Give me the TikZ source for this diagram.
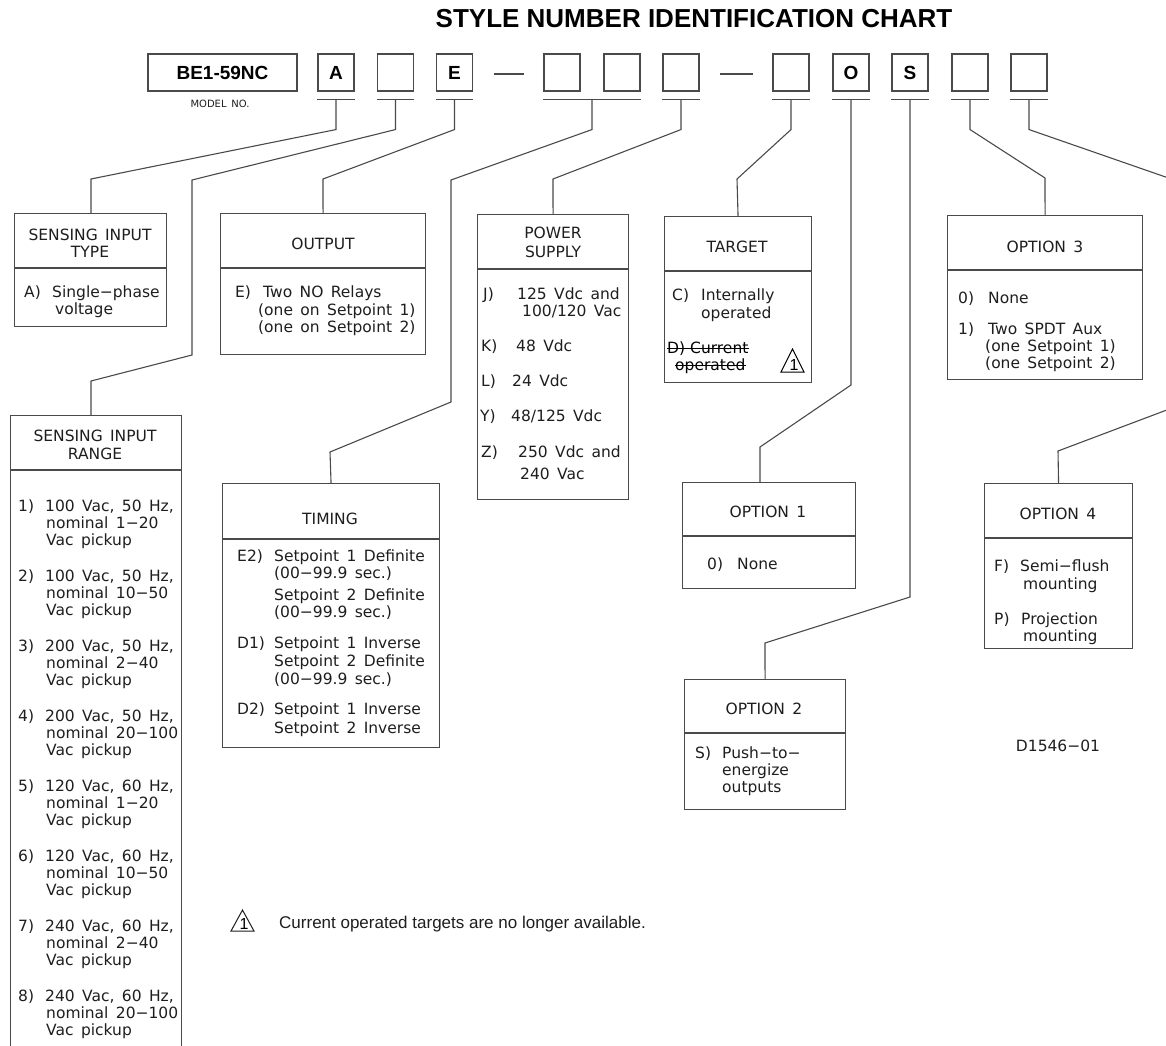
\documentclass[tikz,border=0pt]{standalone}
\usepackage{fontspec}
\setmainfont{DejaVu Sans}
\newfontfamily\cad[WordSpace=1.5]{DejaVu Sans}
\newfontfamily\arial{Liberation Sans}
\usetikzlibrary{calc}
\definecolor{ln}{HTML}{4A4A4A}
\definecolor{tx}{HTML}{1E1E1E}
\tikzset{
  lnk/.style={draw=ln, line width=1.1pt},
  cell/.style={draw=ln, line width=1.1pt, minimum width=36pt, minimum height=37pt, inner sep=0pt,
    font=\arial\bfseries\fontsize{19}{19}\selectfont, text=black},
  obox/.style={draw=ln, line width=1.1pt, anchor=north west, inner sep=0pt},
  txt/.style={anchor=base west, inner sep=0pt, text=tx, font=\cad\fontsize{15.5}{17}\selectfont},
  hdr/.style={anchor=base, inner sep=0pt, text=tx, font=\cad\fontsize{15.5}{17}\selectfont},
  strike/.style={draw=black, line width=1pt},
  trinum/.style={anchor=base, inner sep=0pt, font=\arial\fontsize{16}{16}\selectfont},
}
\newcommand\obox[6]{%
  \node[obox, minimum width={(#4-#2)*1pt}, minimum height={(#5-#3)*1pt}] (#1) at (#2,#3) {};
  \draw[lnk] (#1.west |- 0,#6) -- (#1.east |- 0,#6);}
\begin{document}
\begin{tikzpicture}[x=1pt,y=-1pt]
\useasboundingbox (0,0) rectangle (1166,1045);
\clip (0,0) rectangle (1166,1045);
\fill[white] (0,0) rectangle (1166,1045);

% title
\node[anchor=base, inner sep=0pt, font=\arial\bfseries\fontsize{26}{26}\selectfont] (title) at (694,27) {STYLE NUMBER IDENTIFICATION CHART};

% top row of cells
\node[cell, minimum width=149pt] (model) at (222.5,72.5) {BE1-59NC};
\node[hdr, font=\cad\fontsize{10}{10}\selectfont] (modelno) at (220,107) {MODEL NO.};
\node[cell] (bA) at (336,72.5) {A};
\node[cell] (bB) at (395.5,72.5) {};
\node[cell] (bE) at (454.5,72.5) {E};
\node[cell] (b4) at (562,72.5) {};
\node[cell] (b5) at (622,72.5) {};
\node[cell] (b6) at (681,72.5) {};
\node[cell] (b7) at (791,72.5) {};
\node[cell] (bO) at (851,72.5) {O};
\node[cell] (bS) at (910,72.5) {S};
\node[cell] (b10) at (970,72.5) {};
\node[cell] (b11) at (1029,72.5) {};
\draw[lnk] (494,74) -- (524,74);
\draw[lnk] (720,74) -- (753,74);

% underlines
\foreach \b in {bA,bB,bE,b6,b7,bO,bS,b10,b11}
  \draw[lnk] ([yshift=-8pt]\b.south west) -- ([yshift=-8pt]\b.south east);
\draw[lnk] ([yshift=-8pt]b4.south west) -- ([yshift=-8pt]b5.south east);
\coordinate (u45) at ($(b4.south)!0.5!(b5.south)+(0,8)$);

% option boxes
\obox{sit}{14}{213}{166}{326}{268}
\obox{out}{220}{213}{425}{354}{268}
\obox{pwr}{477}{214}{628}{499}{269}
\obox{tgt}{664}{216}{811}{382}{271}
\obox{op3}{947}{215}{1142}{379}{270}
\obox{rng}{10}{415}{181}{1060}{470}
\obox{tim}{222}{483}{439}{747}{539}
\obox{op1}{682}{482}{855}{588}{536}
\obox{op2}{684}{679}{845}{809}{733}
\obox{op4}{984}{483}{1132}{648}{538}

% connectors
\draw[lnk] ([yshift=-8pt]bA.south) -- ++(0,30) -- (91,179) -- (91,0 |- sit.north);
\draw[lnk] ([yshift=-8pt]bB.south) -- ++(0,30) -- (192,180) -- (192,355) -- (91,381) -- (91,0 |- rng.north);
\draw[lnk] ([yshift=-8pt]bE.south) -- ++(0,30) -- (323,179) -- (out.north);
\draw[lnk] (u45) -- ++(0,30) -- (451,180) -- (451,402) -- (330,452) -- (tim.north);
\draw[lnk] ([yshift=-8pt]b6.south) -- ++(0,30) -- (553,179) -- (pwr.north);
\draw[lnk] ([yshift=-8pt]b7.south) -- ++(0,30) -- (737,179) -- (tgt.north);
\draw[lnk] ([yshift=-8pt]bO.south) -- (851,385) -- (760,447) -- (760,0 |- op1.north);
\draw[lnk] ([yshift=-8pt]bS.south) -- (910,597) -- (765,643) -- (op2.north);
\draw[lnk] ([yshift=-8pt]b10.south) -- ++(0,30) -- (1045,178) -- (op3.north);
\draw[lnk] ([yshift=-8pt]b11.south) -- ++(0,30) -- (1180,182) -- (1180,405) -- (1058,451) -- (op4.north);

% SENSING INPUT TYPE
\node[hdr] (sith1) at (90,240) {SENSING INPUT};
\node[hdr] (sith2) at (90,257) {TYPE};
\node[txt] (sitl) at (24,297) {A)};
\node[txt] (sitt1) at (52,297) {Single−phase};
\node[txt] (sitt2) at (55,314) {voltage};

% OUTPUT
\node[hdr] (outh) at (323,249) {OUTPUT};
\node[txt] (outl) at (235,297) {E)};
\node[txt] (outt1) at (263,297) {Two NO Relays};
\node[txt] (outt2) at (258,315) {(one on Setpoint 1)};
\node[txt] (outt3) at (258,332) {(one on Setpoint 2)};

% POWER SUPPLY
\node[hdr] (pwrh1) at (553,238) {POWER};
\node[hdr] (pwrh2) at (553,257) {SUPPLY};
\node[txt] (pwl1) at (483,299) {J)};
\node[txt] (pwt1) at (517,299) {125 Vdc and};
\node[txt] (pwt1b) at (522,316) {100/120 Vac};
\node[txt] (pwl2) at (481,351) {K)};
\node[txt] (pwt2) at (516,351) {48 Vdc};
\node[txt] (pwl3) at (481,386) {L)};
\node[txt] (pwt3) at (512,386) {24 Vdc};
\node[txt] (pwl4) at (480,421) {Y)};
\node[txt] (pwt4) at (511,421) {48/125 Vdc};
\node[txt] (pwl5) at (481,457) {Z)};
\node[txt] (pwt5) at (518,457) {250 Vdc and};
\node[txt] (pwt5b) at (520,479) {240 Vac};

% TARGET
\node[hdr] (tgth) at (737,252) {TARGET};
\node[txt] (tgl1) at (672,300) {C)};
\node[txt] (tgt1) at (701,300) {Internally};
\node[txt] (tgt1b) at (701,318) {operated};
\node[txt, text=black] (tgl2) at (667,353) {D)};
\node[txt, text=black] (tgt2) at (690,353) {Current};
\node[txt, text=black] (tgt2b) at (675,370) {operated};
\draw[strike] ([yshift=4.5pt]tgl2.base west) -- ([yshift=4.5pt]tgt2.base east);
\draw[strike] ([yshift=4.5pt]tgt2b.base west) -- ([yshift=4.5pt]tgt2b.base east);
\draw[draw=black, line width=1pt, line join=miter] (781,372) -- (792.5,349) -- (804,372) -- cycle;
\node[trinum] (tri1) at (794,370) {1};

% OPTION 3
\node[hdr] (op3h) at (1045,252) {OPTION 3};
\node[txt] (o3l1) at (958,303) {0)};
\node[txt] (o3t1) at (988,303) {None};
\node[txt] (o3l2) at (958,334) {1)};
\node[txt] (o3t2) at (988,334) {Two SPDT Aux};
\node[txt] (o3t3) at (985,351) {(one Setpoint 1)};
\node[txt] (o3t4) at (985,368) {(one Setpoint 2)};

% SENSING INPUT RANGE
\node[hdr] (rngh1) at (95,441) {SENSING INPUT};
\node[hdr] (rngh2) at (95,459) {RANGE};
\foreach \pa/\pb/\pc [count=\i from 0] in {100/50/1−20, 100/50/10−50, 200/50/2−40, 200/50/20−100,
    120/60/1−20, 120/60/10−50, 240/60/2−40, 240/60/20−100} {
  \pgfmathsetmacro\yy{511+70*\i}
  \node[txt] (rgl\i) at (18,\yy) {\the\numexpr\i+1\relax)};
  \node[txt] (rga\i) at (45,\yy) {\pa\ Vac, \pb\ Hz,};
  \node[txt] (rgb\i) at (46,\yy+17) {nominal \pc};
  \node[txt] (rgc\i) at (46,\yy+34) {Vac pickup};
}

% TIMING
\node[hdr] (timh) at (330,524) {TIMING};
\node[txt] (tml1) at (237,561) {E2)};
\node[txt] (tmt1) at (274,561) {Setpoint 1 Definite};
\node[txt] (tmt2) at (274,578) {(00−99.9 sec.)};
\node[txt] (tmt3) at (274,600) {Setpoint 2 Definite};
\node[txt] (tmt4) at (274,617) {(00−99.9 sec.)};
\node[txt] (tml2) at (237,648) {D1)};
\node[txt] (tmt5) at (274,648) {Setpoint 1 Inverse};
\node[txt] (tmt6) at (274,666) {Setpoint 2 Definite};
\node[txt] (tmt7) at (274,684) {(00−99.9 sec.)};
\node[txt] (tml3) at (237,714) {D2)};
\node[txt] (tmt8) at (274,714) {Setpoint 1 Inverse};
\node[txt] (tmt9) at (274,733) {Setpoint 2 Inverse};

% OPTION 1
\node[hdr] (op1h) at (768,517) {OPTION 1};
\node[txt] (o1l) at (707,569) {0)};
\node[txt] (o1t) at (737,569) {None};

% OPTION 2
\node[hdr] (op2h) at (764,714) {OPTION 2};
\node[txt] (o2l) at (695,758) {S)};
\node[txt] (o2t1) at (722,758) {Push−to−};
\node[txt] (o2t2) at (722,775) {energize};
\node[txt] (o2t3) at (722,792) {outputs};

% OPTION 4
\node[hdr] (op4h) at (1058,519) {OPTION 4};
\node[txt] (o4l1) at (994,571) {F)};
\node[txt] (o4t1) at (1020,571) {Semi−flush};
\node[txt] (o4t2) at (1023,589) {mounting};
\node[txt] (o4l2) at (994,624) {P)};
\node[txt] (o4t3) at (1021,624) {Projection};
\node[txt] (o4t4) at (1023,641) {mounting};

% drawing number
\node[hdr] (dwg) at (1058,751) {D1546−01};

% footnote
\draw[draw=tx, line width=1pt, line join=miter] (231,931) -- (242.5,910) -- (254,931) -- cycle;
\node[trinum] (tri2) at (244,929) {1};
\node[anchor=base west, inner sep=0pt, text=tx, font=\arial\fontsize{17}{17}\selectfont] (note) at (279,928)
  {Current operated targets are no longer available.};
\end{tikzpicture}
\end{document}
